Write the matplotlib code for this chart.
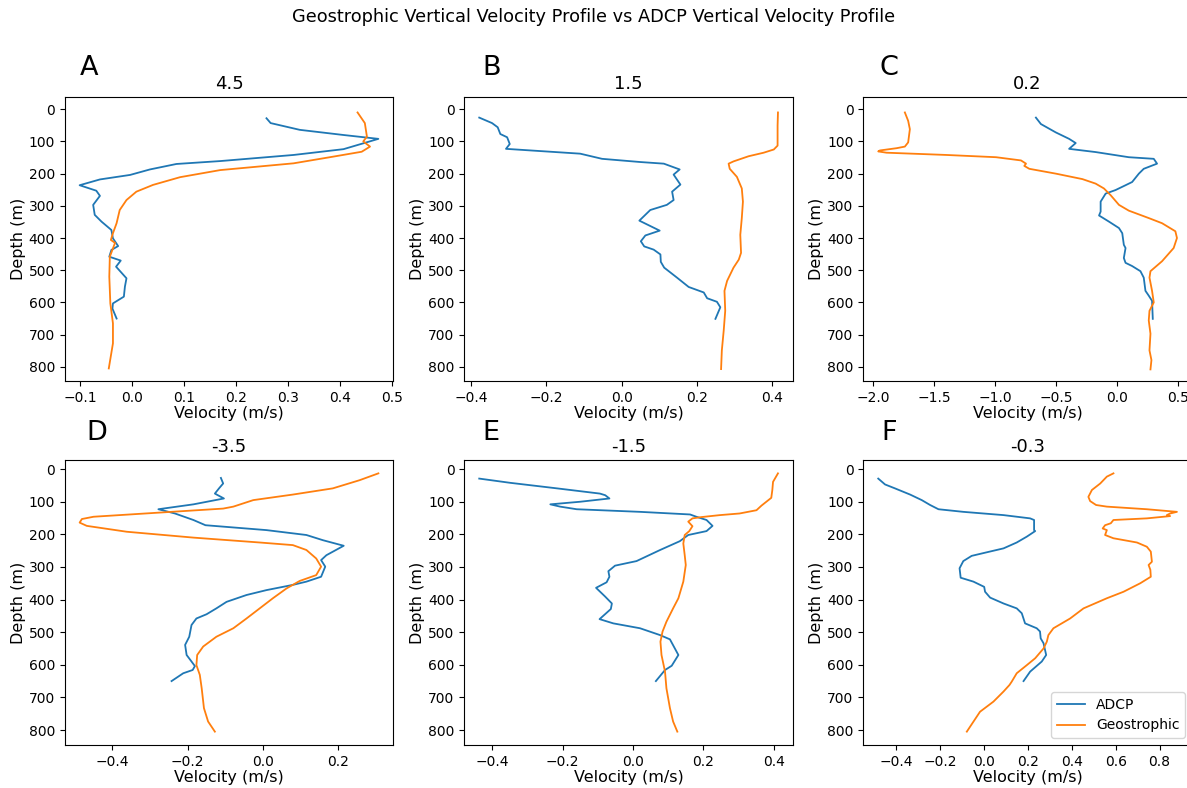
import numpy as np
import matplotlib
matplotlib.use("Agg")
import matplotlib.pyplot as plt
from matplotlib.ticker import MultipleLocator

# panel titles and letters
titles = ["4.5", "1.5", "0.2", "-3.5", "-1.5", "-0.3"]
letters = ["A", "B", "C", "D", "E", "F"]

# ---- A ----
a_adcp_depth = [28, 43, 64, 80, 92, 124, 142, 161, 170, 187, 204, 218, 236, 253, 269, 297,
                328, 349, 375, 401, 425, 437, 458, 470, 489, 525, 551, 582, 603, 619, 650]
a_adcp_vel = [0.258, 0.266, 0.322, 0.406, 0.473, 0.406, 0.310, 0.169, 0.085, 0.034, -0.004,
              -0.062, -0.101, -0.069, -0.062, -0.075, -0.072, -0.059, -0.040, -0.037, -0.027,
              -0.040, -0.044, -0.022, -0.031, -0.011, -0.014, -0.016, -0.037, -0.038, -0.030]
a_geo_depth = [10, 43, 85, 100, 116, 132, 147, 168, 189, 211, 235, 256, 282, 313, 354, 385,
               406, 415, 458, 520, 603, 665, 727, 805]
a_geo_vel = [0.433, 0.447, 0.451, 0.444, 0.457, 0.441, 0.387, 0.310, 0.169, 0.092, 0.040,
             0.008, -0.011, -0.024, -0.030, -0.037, -0.041, -0.033, -0.043, -0.044, -0.042,
             -0.037, -0.037, -0.045]

# ---- B ----
b_adcp_depth = [26, 43, 56, 77, 87, 108, 123, 138, 154, 164, 169, 187, 203, 234, 256, 282,
                297, 313, 346, 377, 392, 410, 426, 436, 451, 474, 492, 523, 552, 569, 587,
                598, 615, 651]
b_adcp_vel = [-0.378, -0.344, -0.329, -0.322, -0.304, -0.297, -0.307, -0.110, -0.052, 0.050,
              0.112, 0.154, 0.138, 0.156, 0.134, 0.138, 0.120, 0.076, 0.047, 0.101, 0.063,
              0.051, 0.060, 0.085, 0.103, 0.104, 0.113, 0.147, 0.178, 0.218, 0.227, 0.253,
              0.262, 0.249]
b_geo_depth = [10, 51, 113, 125, 135, 146, 162, 169, 185, 210, 246, 287, 338, 390, 446, 467,
               492, 533, 564, 626, 687, 749, 807]
b_geo_vel = [0.415, 0.414, 0.414, 0.404, 0.377, 0.337, 0.297, 0.284, 0.287, 0.306, 0.319,
             0.322, 0.319, 0.315, 0.317, 0.311, 0.297, 0.280, 0.273, 0.275, 0.271, 0.266, 0.264]

# ---- C ----
c_adcp_depth = [26, 46, 72, 92, 105, 123, 133, 149, 154, 169, 185, 200, 226, 236, 251, 262,
                287, 318, 330, 349, 369, 385, 421, 431, 462, 477, 487, 503, 523, 564, 579,
                595, 651]
c_adcp_vel = [-0.666, -0.625, -0.503, -0.394, -0.340, -0.394, -0.177, 0.095, 0.299, 0.326,
              0.217, 0.177, 0.122, 0.068, -0.014, -0.095, -0.136, -0.136, -0.149, -0.068,
              0.014, 0.041, 0.054, 0.068, 0.054, 0.068, 0.122, 0.190, 0.217, 0.231, 0.258,
              0.285, 0.291]
c_geo_depth = [10, 36, 62, 103, 116, 121, 128, 131, 135, 142, 149, 159, 169, 176, 185, 200,
               217, 231, 246, 267, 297, 315, 338, 354, 379, 400, 431, 472, 503, 523, 564,
               600, 626, 656, 697, 749, 779, 808]
c_geo_vel = [-1.739, -1.712, -1.698, -1.712, -1.739, -1.807, -1.943, -1.957, -1.889, -1.399,
             -0.992, -0.788, -0.747, -0.761, -0.720, -0.503, -0.285, -0.177, -0.109, -0.054,
             0.014, 0.095, 0.258, 0.367, 0.476, 0.489, 0.462, 0.367, 0.272, 0.264, 0.285,
             0.299, 0.264, 0.258, 0.272, 0.264, 0.280, 0.272]

# ---- D ----
d_adcp_depth = [27, 44, 59, 75, 90, 108, 123, 136, 156, 172, 187, 202, 218, 235, 264, 279,
                299, 330, 345, 355, 371, 386, 407, 427, 445, 458, 478, 514, 539, 570, 590,
                604, 616, 626, 650]
d_adcp_vel = [-0.112, -0.106, -0.117, -0.128, -0.104, -0.185, -0.278, -0.234, -0.185, -0.153,
              0.009, 0.115, 0.159, 0.214, 0.168, 0.154, 0.165, 0.154, 0.115, 0.079, 0.009,
              -0.044, -0.097, -0.124, -0.150, -0.177, -0.190, -0.196, -0.207, -0.203, -0.190,
              -0.181, -0.187, -0.212, -0.243]
d_geo_depth = [13, 34, 59, 78, 95, 115, 121, 146, 153, 164, 174, 192, 210, 225, 233, 248,
               274, 299, 325, 343, 366, 396, 427, 458, 488, 514, 544, 570, 601, 631, 672,
               733, 774, 805]
d_geo_vel = [0.306, 0.256, 0.185, 0.079, -0.026, -0.079, -0.106, -0.450, -0.481, -0.487,
             -0.468, -0.362, -0.185, -0.009, 0.079, 0.115, 0.141, 0.154, 0.141, 0.097, 0.062,
             0.026, -0.009, -0.044, -0.079, -0.124, -0.159, -0.175, -0.177, -0.168, -0.163,
             -0.157, -0.146, -0.128]

# ---- E ----
e_adcp_depth = [29, 42, 59, 75, 80, 90, 100, 108, 115, 123, 131, 139, 146, 156, 174, 190,
                202, 221, 248, 282, 296, 313, 330, 347, 364, 391, 412, 429, 460, 473, 488,
                509, 522, 550, 570, 603, 616, 650]
e_adcp_vel = [-0.437, -0.349, -0.216, -0.094, -0.079, -0.067, -0.150, -0.235, -0.207, -0.160,
              0.020, 0.162, 0.180, 0.209, 0.226, 0.209, 0.157, 0.133, 0.077, 0.010, -0.051,
              -0.070, -0.067, -0.075, -0.105, -0.079, -0.060, -0.063, -0.095, -0.056, 0.020,
              0.077, 0.105, 0.119, 0.129, 0.110, 0.091, 0.065]
e_geo_depth = [13, 39, 64, 88, 100, 112, 126, 136, 141, 147, 151, 161, 175, 190, 202, 228,
               264, 294, 345, 396, 427, 468, 498, 529, 570, 621, 672, 733, 774, 805]
e_geo_vel = [0.412, 0.398, 0.396, 0.393, 0.379, 0.365, 0.351, 0.303, 0.247, 0.195, 0.169,
             0.157, 0.169, 0.160, 0.147, 0.143, 0.147, 0.150, 0.143, 0.129, 0.114, 0.095,
             0.084, 0.078, 0.081, 0.091, 0.095, 0.105, 0.114, 0.126]

# ---- F ----
f_adcp_depth = [29, 47, 59, 78, 95, 110, 123, 131, 141, 151, 156, 187, 190, 207, 225, 243,
                255, 266, 282, 304, 333, 345, 361, 376, 394, 412, 427, 442, 473, 488, 498,
                519, 534, 570, 590, 621, 650]
f_adcp_vel = [-0.480, -0.449, -0.404, -0.335, -0.282, -0.244, -0.206, -0.093, 0.090, 0.211,
              0.229, 0.229, 0.234, 0.196, 0.150, 0.090, 0.014, -0.055, -0.093, -0.110,
              -0.105, -0.047, 0.002, 0.006, 0.029, 0.090, 0.150, 0.173, 0.188, 0.241, 0.256,
              0.259, 0.272, 0.284, 0.264, 0.211, 0.181]
f_geo_depth = [13, 23, 44, 64, 85, 98, 110, 115, 123, 131, 136, 141, 144, 151, 156, 166, 172,
               182, 187, 202, 212, 225, 238, 253, 284, 294, 309, 330, 350, 376, 396, 427,
               458, 488, 509, 529, 550, 580, 601, 626, 652, 662, 682, 713, 744, 805]
f_geo_vel = [0.590, 0.560, 0.530, 0.492, 0.476, 0.484, 0.511, 0.560, 0.742, 0.879, 0.848,
             0.833, 0.848, 0.742, 0.590, 0.578, 0.552, 0.541, 0.560, 0.552, 0.590, 0.697,
             0.742, 0.760, 0.765, 0.750, 0.758, 0.760, 0.712, 0.636, 0.560, 0.454, 0.393,
             0.317, 0.294, 0.287, 0.272, 0.234, 0.196, 0.150, 0.127, 0.117, 0.090, 0.044,
             -0.017, -0.077]

adcp = [(a_adcp_vel, a_adcp_depth), (b_adcp_vel, b_adcp_depth), (c_adcp_vel, c_adcp_depth),
        (d_adcp_vel, d_adcp_depth), (e_adcp_vel, e_adcp_depth), (f_adcp_vel, f_adcp_depth)]
geo = [(a_geo_vel, a_geo_depth), (b_geo_vel, b_geo_depth), (c_geo_vel, c_geo_depth),
       (d_geo_vel, d_geo_depth), (e_geo_vel, e_geo_depth), (f_geo_vel, f_geo_depth)]

W, H = 1187, 788
fig = plt.figure(figsize=(W / 100, H / 100), dpi=100)

lefts = [64.7, 464.3, 863.3]
width = 328.6
rows = [(97, 381), (460, 745)]
ylims = [(844, -38), (846, -28)]
letter_pos = [(89, 68), (492, 68), (889, 68), (97, 433), (491, 433), (889, 433)]
x_steps = [0.1, 0.2, 0.5, 0.2, 0.2, 0.2]

for i in range(6):
    r, c = divmod(i, 3)
    top, bot = rows[r]
    ax = fig.add_axes([lefts[c] / W, 1 - bot / H, width / W, (bot - top) / H])
    ax.plot(*adcp[i], lw=1.3, label="ADCP")
    ax.plot(*geo[i], lw=1.3, label="Geostrophic")
    ax.set_ylim(*ylims[r])
    ax.xaxis.set_major_locator(MultipleLocator(x_steps[i]))
    ax.set_title(titles[i], fontsize=13)
    ax.set_xlabel("Velocity (m/s)", fontsize=11.5, labelpad=1)
    ax.set_ylabel("Depth (m)", fontsize=11.5, labelpad=2)
    ax.tick_params(labelsize=10)
    fig.text(letter_pos[i][0] / W, 1 - letter_pos[i][1] / H, letters[i],
             fontsize=19.5, ha="center", va="center")
    if i == 5:
        ax.legend(loc="lower right", fontsize=10)

fig.suptitle("Geostrophic Vertical Velocity Profile vs ADCP Vertical Velocity Profile",
             fontsize=12.8, y=1 - 17 / H, va="center")

fig.savefig("out.png", dpi=100)
